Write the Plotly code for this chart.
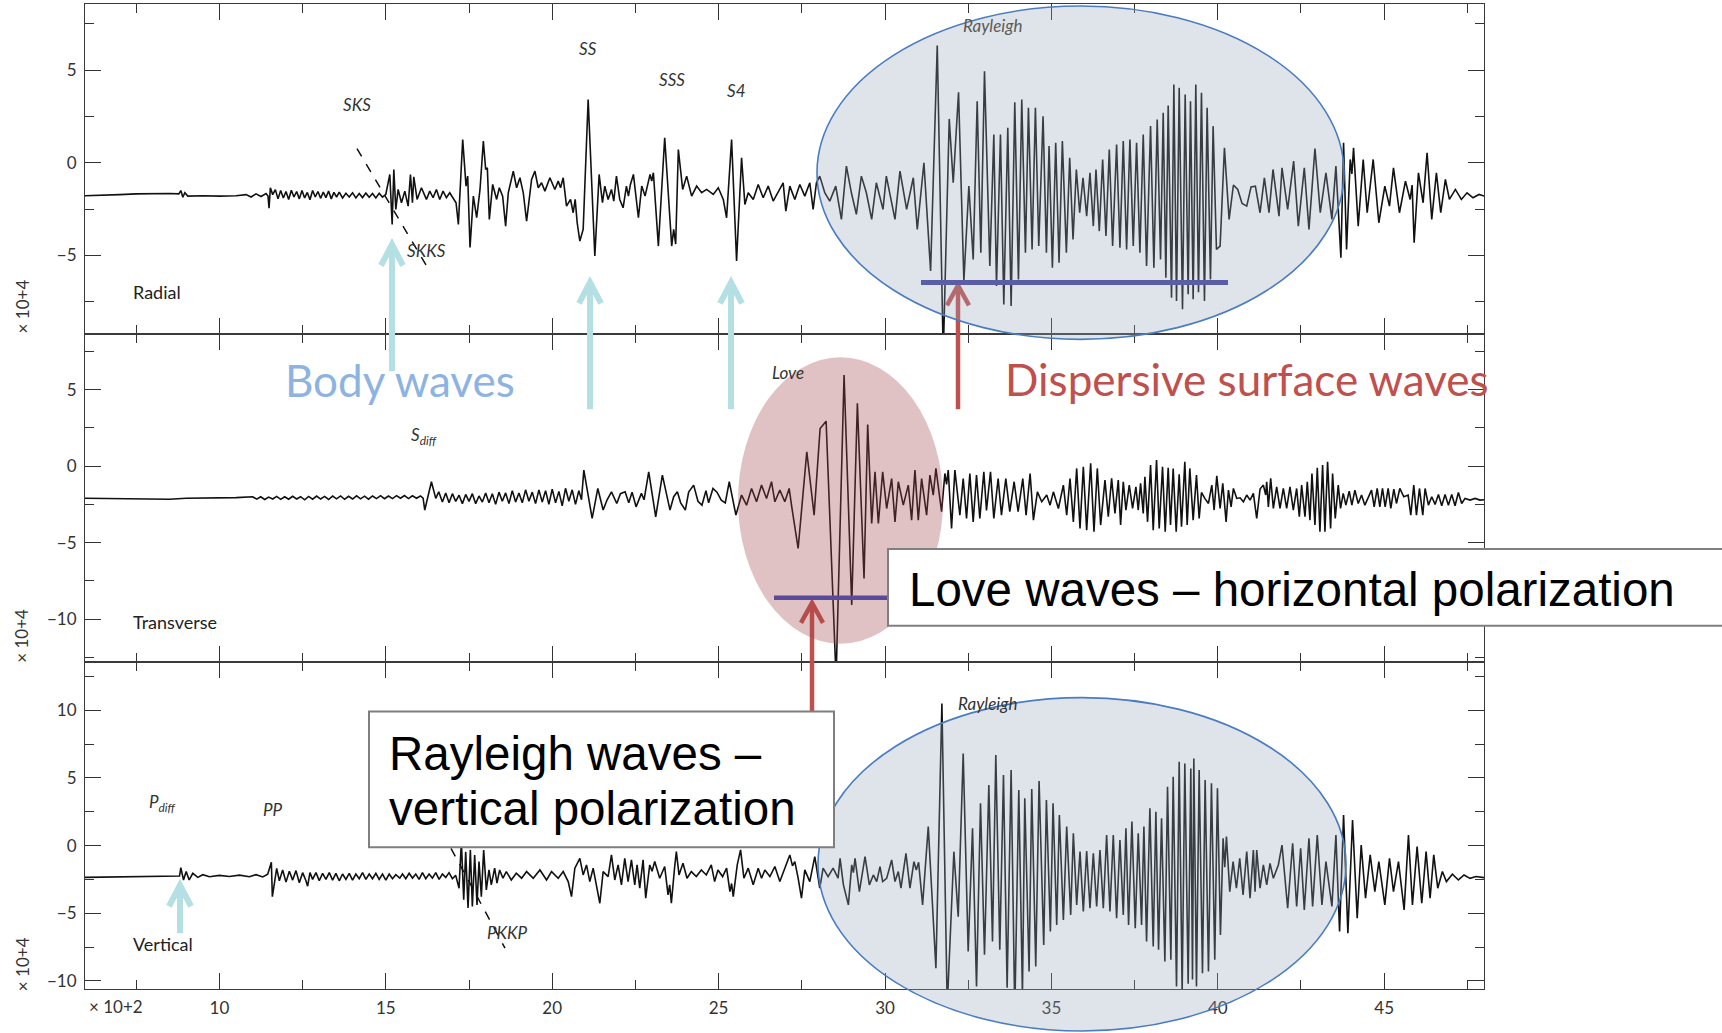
import plotly.graph_objects as go

W, H = 1722, 1033

# ---------------- data: (time x10^2 s, amplitude x10^4) ----------------
radial = [
    (5.96, -1.78), (6.5, -1.76), (7.0, -1.72), (7.5, -1.68), (8.0, -1.65), (8.5, -1.66), (8.78, -1.68),
    (8.84, -1.5), (8.9, -1.86), (8.96, -1.62), (9.05, -1.8), (9.5, -1.78), (10.0, -1.8), (10.5, -1.78),
    (10.8, -1.72), (10.95, -1.85), (11.1, -1.68), (11.25, -1.82), (11.4, -1.66), (11.46, -1.8),
    (11.49, -2.45), (11.53, -1.35), (11.6, -1.72),
    (11.68, -1.45), (11.76, -1.95), (11.84, -1.5), (11.92, -1.9), (12.0, -1.55), (12.08, -1.98),
    (12.16, -1.48), (12.24, -1.85), (12.32, -1.55), (12.4, -1.95), (12.48, -1.5), (12.56, -1.9),
    (12.64, -1.6), (12.72, -2.0), (12.8, -1.5), (12.88, -1.85), (12.96, -1.55), (13.04, -1.92),
    (13.12, -1.58), (13.2, -1.88), (13.28, -1.52), (13.36, -1.95), (13.44, -1.6), (13.52, -1.85),
    (13.6, -1.58), (13.7, -1.9), (13.8, -1.65), (13.9, -1.85), (14.0, -1.62), (14.1, -1.9),
    (14.2, -1.66), (14.3, -1.88), (14.4, -1.64), (14.5, -1.86), (14.6, -1.66), (14.7, -1.9),
    (14.8, -1.65), (14.9, -1.85), (15.0, -1.7),
    (15.12, -0.63), (15.19, -3.33), (15.24, -0.36), (15.30, -2.52), (15.37, -1.44), (15.47, -2.16),
    (15.57, -1.53), (15.67, -2.34), (15.74, -0.63), (15.80, -2.16), (15.84, -0.76), (15.94, -1.98),
    (16.07, -1.35), (16.22, -1.98), (16.32, -1.53), (16.42, -1.89), (16.52, -1.44), (16.62, -1.98),
    (16.72, -1.53), (16.82, -1.89), (16.92, -1.62), (17.03, -1.98), (17.11, -2.16), (17.18, -3.33),
    (17.31, 1.26), (17.41, -1.26), (17.46, -0.72), (17.53, -4.58), (17.63, -1.8), (17.73, -2.97),
    (17.83, -1.44), (17.93, 1.17), (18.0, -0.36), (18.05, -0.27), (18.11, -3.06), (18.21, -1.17),
    (18.33, -1.98), (18.41, -1.35), (18.51, -1.8), (18.60, -3.42), (18.68, -1.62), (18.83, -0.45),
    (18.93, -1.35), (19.03, -0.81), (19.13, -1.62), (19.23, -3.15), (19.38, -0.9), (19.48, -0.45),
    (19.58, -1.35), (19.68, -1.08), (19.78, -1.53), (19.93, -0.81), (20.08, -1.44), (20.18, -0.99),
    (20.25, -1.35), (20.33, -0.81), (20.43, -2.34), (20.55, -1.98), (20.63, -2.7), (20.69, -1.98),
    (20.75, -3.24), (20.83, -4.23), (20.93, -3.6), (21.08, 3.42), (21.28, -5.04), (21.41, -0.63),
    (21.51, -2.16), (21.58, -1.26), (21.68, -1.98), (21.78, -1.44), (21.85, -2.07), (21.93, -0.72),
    (22.03, -1.98), (22.13, -2.43), (22.23, -1.26), (22.29, -1.8), (22.35, -1.17), (22.44, -0.63),
    (22.51, -1.62), (22.59, -2.97), (22.69, -1.26), (22.79, -1.8), (22.94, -0.63), (22.99, -0.99),
    (23.04, -0.54), (23.19, -4.5), (23.38, 1.35), (23.59, -4.5), (23.65, -3.6), (23.71, -4.4),
    (23.79, 0.72), (23.92, -1.44), (24.04, -0.72), (24.19, -1.8), (24.34, -1.26), (24.49, -1.62),
    (24.64, -1.44), (24.84, -1.71), (24.99, -1.35), (25.14, -1.98), (25.24, -2.97), (25.39, 1.26),
    (25.54, -5.3), (25.69, 0.27), (25.79, -2.25), (25.89, -1.62), (26.04, -1.98), (26.19, -1.17),
    (26.34, -1.89), (26.49, -1.26), (26.64, -2.07), (26.84, -1.44),
    (26.94, -1.08), (27.02, -2.61), (27.14, -1.26), (27.29, -1.98), (27.44, -1.17), (27.59, -1.8),
    (27.74, -1.08), (27.84, -2.52), (27.94, -1.08), (28.04, -0.72), (28.19, -1.62), (28.34, -2.07),
    (28.52, -1.26), (28.69, -3.06), (28.84, -0.18), (28.99, -1.62), (29.14, -2.79), (29.29, -0.72),
    (29.44, -1.62), (29.60, -3.06), (29.74, -1.08), (29.94, -2.52), (30.04, -0.72), (30.30, -3.06),
    (30.45, -0.45), (30.65, -2.52), (30.85, -0.81), (30.97, -3.6), (31.17, 0.0), (31.37, -5.85),
    (31.57, 6.33), (31.75, -10.4), (31.93, 2.37), (32.05, -1.08), (32.21, 3.81), (32.37, -6.39),
    (32.52, -1.26), (32.65, -5.22), (32.77, 3.33), (32.88, -4.86), (32.99, 4.94), (33.15, -5.58),
    (33.27, 1.53), (33.35, -6.65), (33.47, 1.53), (33.57, -7.65), (33.69, 1.89), (33.79, -7.74),
    (33.90, 3.27), (34.01, -6.3), (34.11, 3.42), (34.22, -4.86), (34.31, 2.97), (34.42, -4.68),
    (34.52, 2.97), (34.62, -4.5), (34.75, 2.52), (34.85, -4.86), (34.93, 0.9), (35.03, -5.67),
    (35.13, 1.08), (35.23, -5.4), (35.33, 1.17), (35.45, -4.86), (35.55, 0.27), (35.65, -4.14),
    (35.75, -0.36), (35.85, -2.7), (35.95, -0.81), (36.06, -2.88), (36.16, -0.54), (36.26, -3.42),
    (36.34, -0.36), (36.44, -3.69), (36.54, 0.18), (36.64, -3.96), (36.74, 0.72), (36.84, -4.5),
    (36.96, 0.99), (37.06, -4.59), (37.16, 1.17), (37.26, -4.68), (37.36, 1.26), (37.46, -4.5),
    (37.56, 1.08), (37.66, -4.86), (37.76, 1.53), (37.86, -5.58), (37.98, 1.98), (38.08, -5.67),
    (38.18, 2.34), (38.28, -5.22), (38.36, 2.7), (38.44, -6.21), (38.51, 3.09), (38.61, -7.29),
    (38.68, 4.23), (38.76, -7.47), (38.84, 4.05), (38.94, -7.92), (39.02, 3.69), (39.11, -7.1),
    (39.18, 3.33), (39.26, -7.37), (39.34, 4.23), (39.42, -7.0), (39.51, 3.78), (39.60, -7.47),
    (39.68, 2.97), (39.78, -6.3), (39.86, 1.98), (39.96, -4.68),
    (40.07, -4.5), (40.2, 0.81), (40.34, -3.06), (40.47, -1.2), (40.6, -1.44), (40.73, -2.2),
    (40.87, -2.34), (41.0, -1.3), (41.13, -1.26), (41.27, -2.7), (41.4, -0.81), (41.54, -2.7),
    (41.66, -0.36), (41.84, -2.88), (41.93, -0.27), (42.1, -2.52), (42.28, 0.09), (42.42, -3.42),
    (42.6, -0.27), (42.74, -3.6), (42.92, 0.77), (43.08, -2.7), (43.25, -0.54), (43.43, -3.06),
    (43.55, -0.18), (43.7, -5.13), (43.78, 1.08), (43.87, -4.68), (43.98, 0.18), (44.03, -0.6),
    (44.08, 0.81), (44.22, -3.42), (44.37, 0.18), (44.49, -2.7), (44.67, 0.18), (44.84, -3.24),
    (45.02, -1.26), (45.16, -2.34), (45.28, -0.27), (45.46, -2.7), (45.64, -0.99), (45.78, -1.98),
    (45.84, -1.2), (45.9, -4.32), (46.03, -0.54), (46.17, -2.16), (46.29, 0.54), (46.43, -3.06),
    (46.57, -0.54), (46.7, -2.7), (46.84, -0.9), (46.96, -1.98), (47.14, -1.44), (47.32, -1.98),
    (47.49, -1.62), (47.67, -1.89), (47.85, -1.71), (48.0, -1.8),
]

transverse = [
    (5.96, -2.1), (7.0, -2.12), (8.0, -2.18), (8.5, -2.16), (9.0, -2.1), (10.0, -2.08), (10.5, -2.06),
    (11.0, -2.0), (11.12, -2.16), (11.24, -2.0), (11.36, -2.18), (11.48, -2.02), (11.6, -2.15),
    (11.72, -1.98), (11.84, -2.17), (11.96, -2.0), (12.08, -2.16), (12.2, -1.97), (12.32, -2.15),
    (12.44, -2.0), (12.56, -2.2), (12.68, -1.98), (12.8, -2.16), (12.92, -1.96), (13.04, -2.15),
    (13.16, -1.98), (13.28, -2.18), (13.4, -1.96), (13.52, -2.14), (13.64, -1.95), (13.76, -2.17),
    (13.88, -1.97), (14.0, -2.15), (14.12, -1.94), (14.24, -2.14), (14.36, -1.96), (14.48, -2.16),
    (14.6, -1.95), (14.72, -2.12), (14.84, -1.93), (14.96, -2.13), (15.08, -1.95), (15.2, -2.12),
    (15.32, -1.93), (15.44, -2.1), (15.56, -1.92), (15.68, -2.12), (15.8, -1.94), (15.92, -2.1),
    (16.04, -1.95), (16.12, -2.1),
    (16.17, -2.87), (16.37, -1.02), (16.5, -2.11), (16.59, -1.68),
    (16.7, -2.35), (16.8, -1.75), (16.9, -2.4), (17.0, -1.8), (17.1, -2.3), (17.2, -1.9), (17.3, -2.45),
    (17.4, -1.85), (17.5, -2.3), (17.6, -1.8), (17.7, -2.45), (17.8, -1.95), (17.9, -2.35), (18.0, -1.75),
    (18.1, -2.4), (18.2, -1.8), (18.3, -2.5), (18.4, -1.7), (18.5, -2.3), (18.6, -1.75), (18.7, -2.45),
    (18.8, -1.6), (18.9, -2.35), (19.0, -1.75), (19.1, -2.4), (19.2, -1.55), (19.3, -2.3), (19.4, -1.7),
    (19.5, -2.45), (19.6, -1.55), (19.7, -2.35), (19.8, -1.6), (19.9, -2.5), (20.0, -1.5), (20.1, -2.4),
    (20.2, -1.65), (20.3, -2.6), (20.4, -1.45), (20.5, -2.3), (20.6, -1.55), (20.7, -2.5), (20.8, -1.6),
    (20.88, -2.2), (20.95, -0.26), (21.2, -3.42), (21.37, -1.46), (21.53, -2.87), (21.65, -2.2),
    (21.78, -1.68), (21.94, -2.44), (22.05, -1.8), (22.19, -1.68), (22.3, -2.4), (22.4, -1.7),
    (22.52, -2.66), (22.68, -1.78), (22.76, -2.2), (22.9, -0.37), (23.11, -3.31), (23.31, -0.59),
    (23.54, -2.87), (23.65, -2.0), (23.76, -1.68), (23.86, -2.4), (24.0, -2.87), (24.1, -1.7),
    (24.25, -1.24), (24.38, -2.3), (24.5, -2.55), (24.62, -1.6), (24.7, -2.4), (24.83, -1.46),
    (24.95, -1.7), (25.08, -2.22), (25.2, -2.4), (25.32, -1.02), (25.52, -3.2),
    (25.69, -1.89), (25.84, -2.55), (25.99, -1.46), (26.14, -2.33), (26.29, -1.24), (26.44, -2.11),
    (26.59, -1.02), (26.69, -2.33), (26.84, -1.57), (26.99, -2.33), (27.12, -1.46), (27.19, -2.55),
    (27.39, -5.38), (27.65, 0.94), (27.87, -3.2), (28.05, 2.46), (28.23, 2.94), (28.53, -13.88),
    (28.77, 5.95), (29.0, -9.08), (29.17, 4.1), (29.37, -7.34), (29.48, 2.72), (29.6, -3.75),
    (29.7, -0.37), (29.8, -3.75), (29.93, -0.37), (30.05, -2.77), (30.2, -0.81), (30.3, -3.64),
    (30.4, -1.02), (30.55, -2.55), (30.7, -1.24), (30.8, -3.53), (30.9, -0.26), (31.0, -3.53),
    (31.1, -0.81), (31.25, -3.2), (31.35, -0.59), (31.45, -1.89), (31.53, -0.15), (31.7, -2.98),
    (31.8, -0.48), (31.85, -1.2), (31.9, -0.26), (32.0, -4.07), (32.1, -0.26), (32.25, -3.2),
    (32.35, -0.81), (32.45, -3.42), (32.55, -0.48), (32.65, -3.64), (32.75, -0.59), (32.85, -3.42),
    (32.97, -0.37), (33.05, -2.89), (33.17, -0.37), (33.27, -3.42), (33.4, -0.81), (33.5, -3.2),
    (33.63, -0.81), (33.75, -2.98), (33.88, -1.02), (34.0, -2.98), (34.14, -0.81), (34.24, -3.2),
    (34.36, -0.48), (34.46, -3.53), (34.58, -1.68), (34.71, -2.33), (34.86, -1.89), (34.96, -2.55),
    (35.06, -1.68), (35.21, -2.77), (35.36, -1.24), (35.46, -3.2), (35.56, -0.81), (35.66, -3.64),
    (35.76, -0.15), (35.86, -4.07), (35.96, -0.04), (36.06, -4.18), (36.18, 0.18), (36.28, -4.29),
    (36.38, -0.15), (36.48, -3.85),
    (36.61, -0.91), (36.71, -3.31), (36.81, -0.8), (36.91, -3.09), (37.01, -0.91), (37.08, -3.85),
    (37.16, -1.02), (37.24, -2.87), (37.34, -1.24), (37.44, -2.76), (37.54, -1.35), (37.61, -2.87),
    (37.68, -1.13), (37.76, -3.09), (37.81, -0.69), (37.89, -3.64), (37.98, 0.07), (38.06, -4.18),
    (38.16, 0.4), (38.24, -4.07), (38.34, -0.04), (38.42, -4.29), (38.51, -0.11), (38.58, -3.85),
    (38.66, -0.15), (38.75, -4.29), (38.84, -0.54), (38.91, -3.96), (39.01, 0.29), (39.08, -3.85),
    (39.16, -0.15), (39.26, -3.53), (39.36, -0.59), (39.44, -3.42), (39.51, -1.72), (39.61, -2.11),
    (39.72, -2.44), (39.82, -1.24), (39.89, -2.87), (39.97, -0.63), (40.07, -2.76), (40.15, -1.13),
    (40.25, -3.64), (40.32, -1.57), (40.4, -2.66), (40.47, -1.46), (40.57, -2.11), (40.67, -2.07),
    (40.77, -2.33), (40.87, -1.89), (40.97, -2.22), (41.07, -1.78), (41.17, -3.42), (41.27, -1.5),
    (41.37, -1.24), (41.44, -1.89), (41.47, -1.02), (41.52, -2.66), (41.59, -0.8), (41.67, -2.76),
    (41.77, -1.35), (41.87, -2.76), (41.97, -1.46), (42.07, -2.76), (42.17, -1.35), (42.27, -2.87),
    (42.37, -1.46), (42.45, -3.31), (42.52, -1.24), (42.62, -3.31), (42.69, -1.02), (42.77, -3.53),
    (42.83, -0.48), (42.92, -3.85), (42.99, -0.11), (43.07, -4.29), (43.15, 0.07), (43.22, -4.29),
    (43.3, 0.29), (43.39, -4.07), (43.45, -0.48), (43.53, -3.42), (43.62, -1.24), (43.69, -2.76),
    (43.77, -1.78), (43.85, -2.55), (43.95, -1.63), (44.03, -2.55), (44.12, -1.57), (44.22, -2.44),
    (44.32, -1.89), (44.42, -2.55), (44.52, -2.11), (44.62, -1.57), (44.7, -2.66), (44.79, -1.46),
    (44.87, -2.66), (44.95, -1.46), (45.03, -2.66), (45.12, -1.46), (45.2, -2.76), (45.29, -1.5),
    (45.37, -2.44), (45.47, -1.46), (45.59, -2.0), (45.72, -1.89), (45.8, -3.2), (45.89, -1.24),
    (45.97, -3.2), (46.06, -1.46), (46.16, -3.2), (46.23, -1.46), (46.33, -2.55), (46.43, -2.0),
    (46.53, -2.5), (46.63, -1.85), (46.73, -2.59), (46.83, -1.85), (46.93, -2.55), (47.03, -1.85),
    (47.13, -2.59), (47.23, -1.72), (47.33, -2.44), (47.43, -2.11), (47.58, -2.22), (47.73, -2.11),
    (47.88, -2.22), (48.0, -2.2),
]

vertical = [
    (5.96, -2.35), (7.0, -2.32), (8.0, -2.3), (8.75, -2.28), (8.8, -2.25), (8.84, -1.63), (8.92, -2.54),
    (9.0, -1.92), (9.09, -2.54), (9.2, -2.05), (9.35, -2.35), (9.5, -2.15), (9.7, -2.3), (10.0, -2.2),
    (10.3, -2.28), (10.6, -2.18), (10.9, -2.3), (11.1, -2.15), (11.3, -2.32), (11.45, -2.12),
    (11.56, -1.24), (11.59, -3.77), (11.72, -1.68),
    (11.8, -2.6), (11.9, -1.8), (12.0, -2.7), (12.1, -1.9), (12.2, -2.55), (12.3, -1.85), (12.4, -2.75),
    (12.5, -2.0), (12.6, -2.6), (12.65, -3.0), (12.72, -2.0), (12.8, -2.5), (12.9, -2.0), (13.0, -2.6),
    (13.1, -2.05), (13.2, -2.5), (13.3, -2.0), (13.4, -2.55), (13.5, -2.05), (13.6, -2.6), (13.7, -2.1),
    (13.8, -2.5), (13.9, -2.05), (14.0, -2.55), (14.1, -2.1), (14.2, -2.45), (14.3, -2.0), (14.4, -2.5),
    (14.5, -2.1), (14.6, -2.45), (14.7, -2.05), (14.8, -2.5), (14.9, -2.1), (15.0, -2.55), (15.1, -2.1),
    (15.2, -2.45), (15.3, -2.15), (15.42, -2.4), (15.5, -2.1), (15.6, -2.45), (15.7, -2.05), (15.8, -2.4),
    (15.9, -2.1), (16.0, -2.5), (16.1, -2.0), (16.2, -2.45), (16.3, -2.1), (16.4, -2.4), (16.5, -2.0),
    (16.6, -2.5), (16.7, -2.1), (16.8, -2.35), (16.9, -2.0), (17.0, -2.45), (17.1, -2.2),
    (17.2, -3.15), (17.27, 0.3), (17.34, -4.0), (17.4, -0.45), (17.47, -4.6), (17.54, -0.32),
    (17.6, -4.5), (17.67, -0.69), (17.74, -4.38), (17.8, -1.18), (17.87, -3.77), (17.94, -0.33),
    (18.02, -3.27), (18.1, -1.8), (18.17, -2.9), (18.27, -1.67), (18.34, -2.78), (18.42, -1.8),
    (18.52, -2.41), (18.62, -1.92), (18.77, -2.54), (18.92, -2.04), (19.08, -2.41), (19.23, -1.92),
    (19.43, -2.41), (19.63, -1.8), (19.83, -2.54), (19.98, -1.92), (20.18, -2.41), (20.33, -1.92),
    (20.48, -2.66), (20.58, -3.77), (20.68, -1.67), (20.83, -0.94), (20.93, -2.17), (21.03, -1.43),
    (21.13, -2.66), (21.23, -1.67), (21.35, -3.15), (21.43, -4.26), (21.53, -1.92), (21.68, -2.29),
    (21.78, -0.69), (21.88, -2.54), (21.98, -1.43), (22.08, -2.9), (22.18, -0.94), (22.28, -2.66),
    (22.38, -1.06), (22.48, -2.9), (22.55, -1.43), (22.63, -3.15), (22.73, -1.06), (22.81, -3.89),
    (22.93, -1.43), (23.0, -1.9), (23.08, -1.18), (23.23, -2.41), (23.38, -1.55), (23.48, -3.64),
    (23.53, -2.9), (23.58, -4.26), (23.68, -1.55), (23.73, -0.45), (23.81, -2.17), (23.93, -1.31),
    (24.05, -2.41), (24.18, -1.92), (24.33, -2.29), (24.48, -1.8), (24.63, -2.17), (24.78, -1.43),
    (24.88, -2.66), (24.98, -1.8), (25.12, -2.29), (25.24, -1.67), (25.34, -3.4), (25.39, -2.8),
    (25.44, -3.77), (25.56, -1.43), (25.66, -0.32), (25.76, -2.41), (25.89, -1.67), (26.04, -2.9),
    (26.19, -1.67), (26.29, -2.41), (26.39, -1.8), (26.54, -2.29), (26.69, -1.55), (26.84, -2.66),
    (26.99, -1.67), (27.14, -0.69), (27.22, -1.5), (27.29, -1.18), (27.39, -2.41), (27.49, -3.89),
    (27.59, -1.8), (27.74, -2.66), (27.89, -0.81), (28.04, -3.15), (28.14, -1.67), (28.29, -2.29),
    (28.44, -1.67), (28.59, -2.41),
    (28.65, -0.94), (28.75, -2.91), (28.9, -4.38), (29.0, -1.43), (29.05, -2.0), (29.1, -0.94),
    (29.23, -3.4), (29.4, -0.82), (29.53, -2.91), (29.65, -2.17), (29.75, -2.66), (29.85, -1.55),
    (29.93, -2.66), (30.05, -2.42), (30.2, -1.06), (30.3, -2.66), (30.4, -1.92), (30.48, -3.15),
    (30.63, -0.57), (30.75, -3.15), (30.87, -1.19), (30.94, -1.8), (31.01, -1.24), (31.13, -4.38),
    (31.3, 1.4), (31.53, -9.06), (31.71, 10.5), (31.87, -11.9), (32.07, -0.45), (32.2, -5.25),
    (32.35, 6.8), (32.5, -7.83), (32.63, 1.27), (32.75, -10.4), (32.87, 3.12), (32.99, -8.07),
    (33.12, 4.47), (33.23, -7.09), (33.33, 6.69), (33.45, -7.7), (33.56, 5.21), (33.67, -10.5),
    (33.79, 5.58), (33.9, -12.4), (34.02, 4.1), (34.13, -11.0), (34.2, 3.49), (34.33, -9.3),
    (34.41, 4.18), (34.53, -8.94), (34.63, 4.77), (34.77, -7.34), (34.85, 3.37), (34.97, -6.35),
    (35.05, 3.12), (35.16, -5.86), (35.24, 2.26), (35.36, -5.49), (35.46, 1.4), (35.58, -5.12),
    (35.66, 0.91), (35.76, -4.38), (35.86, -0.45), (35.96, -4.87), (36.06, -0.4), (36.16, -4.63),
    (36.26, -0.57), (36.36, -4.5), (36.46, -0.33), (36.56, -4.63), (36.66, 0.78), (36.76, -4.87),
    (36.86, 0.78), (36.96, -5.37), (37.06, 0.41), (37.16, -5.12), (37.24, 1.27), (37.32, -5.86),
    (37.42, 1.77), (37.52, -6.11), (37.61, 0.91), (37.71, -5.86), (37.78, 1.4), (37.86, -7.09),
    (37.96, 2.75), (38.06, -7.46), (38.14, 2.5), (38.22, -7.7), (38.31, 2.01), (38.41, -8.57),
    (38.49, 4.35), (38.59, -8.44), (38.66, 5.09), (38.76, -10.4), (38.84, 6.19), (38.93, -10.8),
    (39.01, 6.07), (39.11, -10.2), (39.19, 5.7), (39.24, -9.9), (39.28, 6.44), (39.36, -10.4),
    (39.44, 5.58), (39.54, -9.43), (39.62, 4.84), (39.72, -9.3), (39.81, 4.6), (39.91, -8.44),
    (39.99, 4.23), (40.08, -6.6), (40.16, 0.54), (40.21, -1.6), (40.26, 0.66), (40.36, -3.4),
    (40.46, -1.19), (40.56, -3.15), (40.66, -0.94), (40.76, -3.65), (40.87, -0.45), (40.97, -3.89),
    (41.07, -0.33), (41.12, -3.4), (41.17, -0.33), (41.27, -3.15), (41.37, -1.43), (41.47, -2.91),
    (41.57, -1.31), (41.67, -2.42), (41.82, -1.43),
    (41.93, 0.04), (42.1, -4.63), (42.25, 0.17), (42.37, -4.5), (42.49, -0.2), (42.6, -4.75),
    (42.74, 0.54), (42.85, -4.5), (42.99, 0.78), (43.13, -4.38), (43.25, -1.19), (43.43, -4.5),
    (43.55, 0.78), (43.66, -6.35), (43.78, 2.26), (43.91, -6.47), (44.05, 1.89), (44.19, -5.37),
    (44.31, 0.04), (44.44, -3.89), (44.58, -0.69), (44.72, -3.4), (44.84, -1.19), (45.02, -4.38),
    (45.16, -0.94), (45.28, -3.4), (45.43, -1.19), (45.6, -4.75), (45.73, 0.78), (45.85, -4.38),
    (45.99, -0.08), (46.13, -4.26), (46.26, -0.45), (46.38, -3.89), (46.49, -0.69), (46.61, -3.15),
    (46.75, -1.92), (46.87, -2.66), (47.05, -2.12), (47.23, -2.54), (47.4, -2.17), (47.58, -2.42),
    (47.76, -2.29), (48.0, -2.37),
]

panel_names = ["Radial", "Transverse", "Vertical"]
x_range = [5.96, 48.0]
y_ranges = [[-9.27, 8.58], [-12.78, 8.61], [-10.6, 13.58]]
x_major = 5
y_major = 5
minor_step = 2.5

# ---------------- layout geometry (pixels) ----------------
PLOT_L, PLOT_R = 85, 1484
PANEL_Y = [(4, 335), (335, 663), (663, 991)]


def px(x, y):
    return x / W, 1 - y / H


fig = go.Figure()
for i, data in enumerate([radial, transverse, vertical]):
    t = [p[0] for p in data]
    v = [p[1] for p in data]
    sfx = "" if i == 0 else str(i + 1)
    fig.add_trace(go.Scatter(x=t, y=v, mode="lines", xaxis="x" + sfx, yaxis="y" + sfx,
                             line=dict(color="#111111", width=1.6), hoverinfo="skip",
                             showlegend=False))

tickfont = dict(family="Lato", size=17, color="#333333")
common = dict(showgrid=False, zeroline=False, showline=True, linecolor="#3a3a3a", linewidth=1,
              mirror="allticks", ticks="inside", ticklen=16, tickwidth=1.3, tickcolor="#333333",
              tickfont=tickfont, tick0=0,
              minor=dict(ticks="inside", ticklen=9, tickwidth=1.3, tickcolor="#333333",
                         dtick=minor_step, tick0=0, showgrid=False))

layout = dict(width=W, height=H, autosize=False, margin=dict(l=0, r=0, t=0, b=0),
              paper_bgcolor="white", plot_bgcolor="white", showlegend=False)
for i in range(3):
    sfx = "" if i == 0 else str(i + 1)
    y_top, y_bot = PANEL_Y[i]
    layout["xaxis" + sfx] = dict(common, domain=[PLOT_L / W, PLOT_R / W], range=x_range,
                                 dtick=x_major, anchor="y" + sfx,
                                 showticklabels=(i == 2), ticklabelstandoff=4)
    layout["yaxis" + sfx] = dict(common, domain=[1 - y_bot / H, 1 - y_top / H], range=y_ranges[i],
                                 dtick=y_major, anchor="x" + sfx, ticklabelstandoff=4)
fig.update_layout(**layout)

shapes = []


def seg(x0, y0, x1, y1, color, width, dash="solid"):
    a = px(x0, y0)
    b = px(x1, y1)
    return dict(type="line", xref="paper", yref="paper", x0=a[0], y0=a[1], x1=b[0], y1=b[1],
                line=dict(color=color, width=width, dash=dash), layer="above")


def chevron(xt, yt, dx, dy, color, width):
    p1, p2, p3 = px(xt - dx, yt + dy), px(xt, yt), px(xt + dx, yt + dy)
    path = f"M {p1[0]},{p1[1]} L {p2[0]},{p2[1]} L {p3[0]},{p3[1]}"
    return dict(type="path", xref="paper", yref="paper", path=path,
                line=dict(color=color, width=width), layer="above")


def oval(x0, y0, x1, y1, fill, line_color=None, lw=0):
    a = px(x0, y0)
    b = px(x1, y1)
    return dict(type="circle", xref="paper", yref="paper", x0=a[0], y0=b[1], x1=b[0], y1=a[1],
                fillcolor=fill, line=dict(color=line_color or "rgba(0,0,0,0)", width=lw),
                layer="above")


def rect(x0, y0, x1, y1):
    a = px(x0, y0)
    b = px(x1, y1)
    return dict(type="rect", xref="paper", yref="paper", x0=a[0], y0=b[1], x1=b[0], y1=a[1],
                fillcolor="white", line=dict(color="#7f7f7f", width=2), layer="above")


RED = "#c0504d"
CYAN = "#b4dfe3"
PURPLE = "#5b5ea6"

# dashed phase curves
shapes.append(seg(357, 149, 427, 267, "#111111", 1.5, "dash"))
shapes.append(seg(451, 850, 505, 950, "#111111", 1.5, "dash"))

# red arrows (below the ellipses)
shapes.append(seg(958, 410, 958, 287, RED, 4.5))
shapes.append(chevron(958, 286, 11, 20, RED, 4.5))
shapes.append(seg(812, 715, 812, 605, RED, 4.5))
shapes.append(chevron(812, 604, 11, 20, RED, 4.5))

# ellipses
shapes.append(oval(817, 6, 1344, 340, "rgba(150,165,185,0.30)", "#4a7cc2", 1.6))
shapes.append(oval(738, 358, 943, 645, "rgba(160,70,75,0.33)"))
shapes.append(oval(818, 699, 1346, 1033, "rgba(150,165,185,0.30)", "#4a7cc2", 1.6))

# purple bars
shapes.append(seg(921, 283, 1228, 283, PURPLE, 5))
shapes.append(seg(774, 599, 900, 599, "#5a4a9c", 4.5))

# cyan arrows
for (xa, y_tail, y_tip) in [(392, 372, 245), (590, 410, 283), (731, 410, 283), (180, 935, 887)]:
    shapes.append(seg(xa, y_tail, xa, y_tip + 2, CYAN, 6))
    shapes.append(chevron(xa, y_tip, 11, 21, CYAN, 6))

# text boxes
shapes.append(rect(888, 550, 1730, 627))
shapes.append(rect(369, 713, 834, 849))

fig.update_layout(shapes=shapes)

ann = []


def label(x, y, text, size=17, color="#333333", family="Lato", xanchor="center", yanchor="middle",
          angle=0, align="center"):
    p = px(x, y)
    ann.append(dict(x=p[0], y=p[1], xref="paper", yref="paper", text=text, showarrow=False,
                    xanchor=xanchor, yanchor=yanchor, textangle=angle, align=align,
                    font=dict(family=family, size=size, color=color)))


# phase labels
label(357, 105, "<i>SKS</i>")
label(588, 49, "<i>SS</i>")
label(672, 80, "<i>SSS</i>")
label(736, 91, "<i>S4</i>")
label(426, 251, "<i>SKKS</i>")
label(992, 26, "<i>Rayleigh</i>", color="#5a5a5a")
label(788, 373, "<i>Love</i>")
label(424, 437, "<i>S<sub>diff</sub></i>")
label(988, 705, "<i>Rayleigh</i>")
label(162, 805, "<i>P<sub>diff</sub></i>")
label(273, 811, "<i>PP</i>")
label(507, 934, "<i>PKKP</i>")

# component names
label(157, 293, "Radial", size=18, color="#222222")
label(175, 623, "Transverse", size=18, color="#222222")
label(163, 946, "Vertical", size=18, color="#222222")

# axis multipliers
label(116, 1008, "× 10+2", size=17)
for yy in (307, 637, 966):
    label(22, yy, "× 10+4", size=17, angle=-90)

# big annotations
label(400, 381, "Body waves", size=44, color="#8db3e2")
label(1003, 380, "Dispersive surface waves", size=44, color=RED, xanchor="left")
label(907, 591, "Love waves – horizontal polarization", size=47.5, color="#000000",
      family="Liberation Sans", xanchor="left")
label(387, 755, "Rayleigh waves –", size=47.5, color="#000000",
      family="Liberation Sans", xanchor="left")
label(387, 810, "vertical polarization", size=47.5, color="#000000",
      family="Liberation Sans", xanchor="left")

fig.update_layout(annotations=ann)

fig.write_html("out.html")
